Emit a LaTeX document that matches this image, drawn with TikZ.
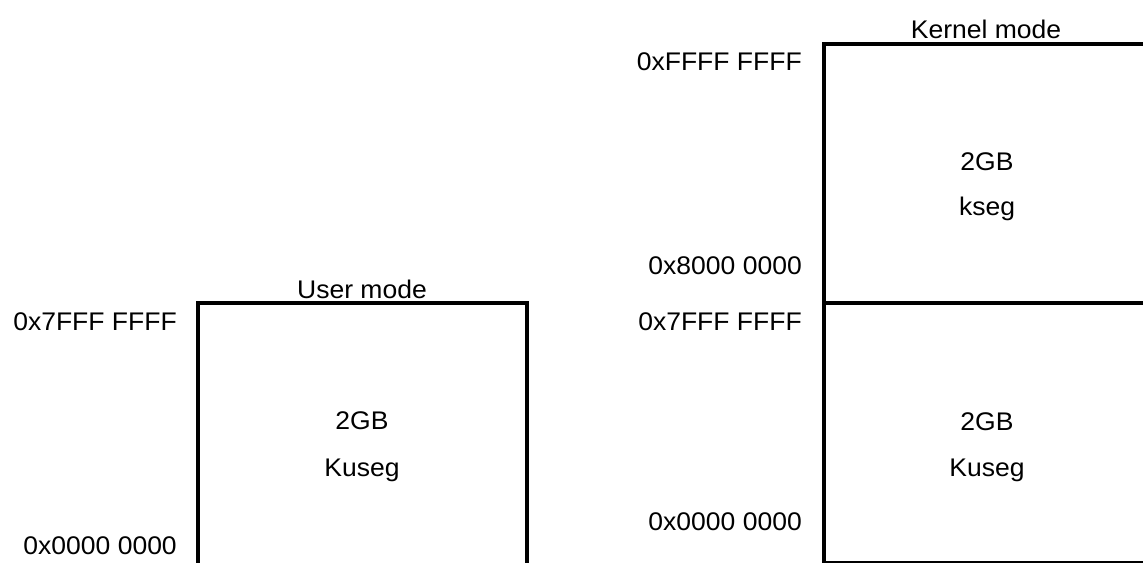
\documentclass[tikz,border=0pt]{standalone}
\usepackage{fontspec}
\setmainfont[FakeStretch=1.04]{Liberation Sans}
\begin{document}
\begin{tikzpicture}[x=1bp,y=-1bp,
  lbl/.style={inner sep=0pt, text height=18.2bp, text depth=0pt, font=\fontsize{25.5bp}{30bp}\selectfont},
  addr/.style={lbl, anchor=east},
  boxline/.style={line width=4.3bp, draw=black}]
\useasboundingbox (0,0) rectangle (1143,563);
\fill[white] (0,0) rectangle (1143,563);
\begin{scope}
\clip (0,0) rectangle (1143,563);
% user mode box
\draw[boxline] (198,580) -- (198,303) -- (527,303) -- (527,580);
% kernel mode box
\draw[boxline] (1160,44) -- (824,44) -- (824,563) -- (1160,563);
\draw[boxline] (824,303) -- (1160,303);
\end{scope}
% titles
\node[lbl] (um) at (362,289) {User mode};
\node[lbl] (km) at (986,29) {Kernel mode};
% left labels
\node[addr] (la1) at (177,321) {0x7FFF FFFF};
\node[addr] (la0) at (177,545) {0x0000 0000};
\node[lbl] (l2gb) at (362,420) {2GB};
\node[lbl] (lkus) at (362,467) {Kuseg};
% right labels
\node[addr] (ra3) at (802,61) {0xFFFF FFFF};
\node[addr] (ra2) at (802,265) {0x8000 0000};
\node[addr] (ra1) at (802,321) {0x7FFF FFFF};
\node[addr] (ra0) at (802,521) {0x0000 0000};
\node[lbl] (r2gbk) at (987,161) {2GB};
\node[lbl] (rks) at (987,206) {kseg};
\node[lbl] (r2gbu) at (987,421) {2GB};
\node[lbl] (rkus) at (987,467) {Kuseg};
\end{tikzpicture}
\end{document}
